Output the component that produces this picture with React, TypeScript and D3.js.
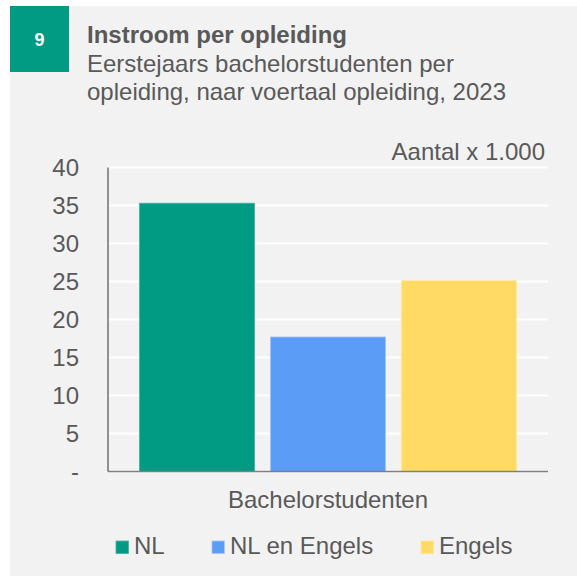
import React from "react";
import * as d3 from "d3";

const categories = ["Bachelorstudenten"];
const seriesNames = ["NL", "NL en Engels", "Engels"];
const seriesValues = [35.3, 17.7, 25.1];
const seriesColors = ["#009b82", "#5b9cf6", "#ffdb66"];
const seriesStrokes = ["#3fb39f", "#a3c6fa", "#ffe697"];
const yTicks = [0, 5, 10, 15, 20, 25, 30, 35, 40];
const titleLines = ["Instroom per opleiding"];
const subtitleLines = ["Eerstejaars bachelorstudenten per", "opleiding, naar voertaal opleiding, 2023"];
const unitLabel = "Aantal x 1.000";
const chartNumber = "9";

const W = 577;
const H = 576;
const FONT = "'Liberation Sans', Arial, Helvetica, sans-serif";
const TEXT = "#595959";
const FS = 24;

export default function App() {
  const left = 108;
  const right = 548;
  const top = 167.5;
  const bottom = 471.5;

  const y = d3.scaleLinear().domain([0, 40]).range([bottom, top]);
  const x0 = d3.scaleBand<string>().domain(categories).range([left, right]).paddingInner(0).paddingOuter(0.0836);
  const x1 = d3
    .scaleBand<string>()
    .domain(seriesNames)
    .range([0, x0.bandwidth()])
    .paddingInner(0.122)
    .paddingOuter(0);

  const legendX = [116, 212, 421];

  return (
    <svg
      width={W}
      height={H}
      style={{ position: "absolute", left: 0, top: 0, background: "#ffffff" }}
      fontFamily={FONT}
    >
      <rect x={10} y={6} width={W - 10} height={H - 6} fill="#f2f2f2" />
      <rect x={10} y={6} width={59} height={66} fill="#009b82" />
      <text x={39.5} y={46} textAnchor="middle" fill="#ffffff" fontWeight="bold" fontSize={18}>
        {chartNumber}
      </text>
      {titleLines.map((t, i) => (
        <text key={"t" + i} x={87} y={43 + i * 28.5} fill={TEXT} fontWeight="bold" fontSize={FS}>
          {t}
        </text>
      ))}
      {subtitleLines.map((t, i) => (
        <text key={"s" + i} x={87} y={71.5 + i * 28.5} fill={TEXT} fontSize={FS}>
          {t}
        </text>
      ))}

      {yTicks.map((v) => (
        <line key={"g" + v} x1={left} x2={right} y1={y(v)} y2={y(v)} stroke="#ffffff" strokeWidth={2} />
      ))}

      {categories.map((c) =>
        seriesNames.map((s, i) => {
          const bx = (x0(c) ?? 0) + (x1(s) ?? 0);
          return (
            <rect
              key={c + s}
              x={bx}
              y={y(seriesValues[i])}
              width={x1.bandwidth()}
              height={bottom - y(seriesValues[i])}
              fill={seriesColors[i]}
              stroke={seriesStrokes[i]}
              strokeWidth={0.8}
            />
          );
        })
      )}

      <line x1={left} x2={left} y1={top} y2={bottom} stroke="#6f6f6f" strokeWidth={1.5} />
      <line x1={left} x2={right} y1={bottom} y2={bottom} stroke="#7f7f7f" strokeWidth={1.5} />

      {yTicks.map((v) => (
        <text
          key={"l" + v}
          x={79}
          y={y(v)}
          dy="0.35em"
          textAnchor="end"
          fill={TEXT}
          fontSize={FS}
        >
          {v === 0 ? "-" : d3.format("d")(v)}
        </text>
      ))}

      <text x={545} y={159.5} textAnchor="end" fill={TEXT} fontSize={FS}>
        {unitLabel}
      </text>

      {categories.map((c) => (
        <text key={"c" + c} x={(x0(c) ?? 0) + x0.bandwidth() / 2} y={508} textAnchor="middle" fill={TEXT} fontSize={FS}>
          {c}
        </text>
      ))}

      {seriesNames.map((s, i) => (
        <g key={"lg" + s}>
          <rect x={legendX[i]} y={541} width={12.5} height={12.5} fill={seriesColors[i]} stroke={seriesStrokes[i]} strokeWidth={0.8} />
          <text x={legendX[i] + 18} y={554} fill={TEXT} fontSize={FS}>
            {s}
          </text>
        </g>
      ))}
    </svg>
  );
}
